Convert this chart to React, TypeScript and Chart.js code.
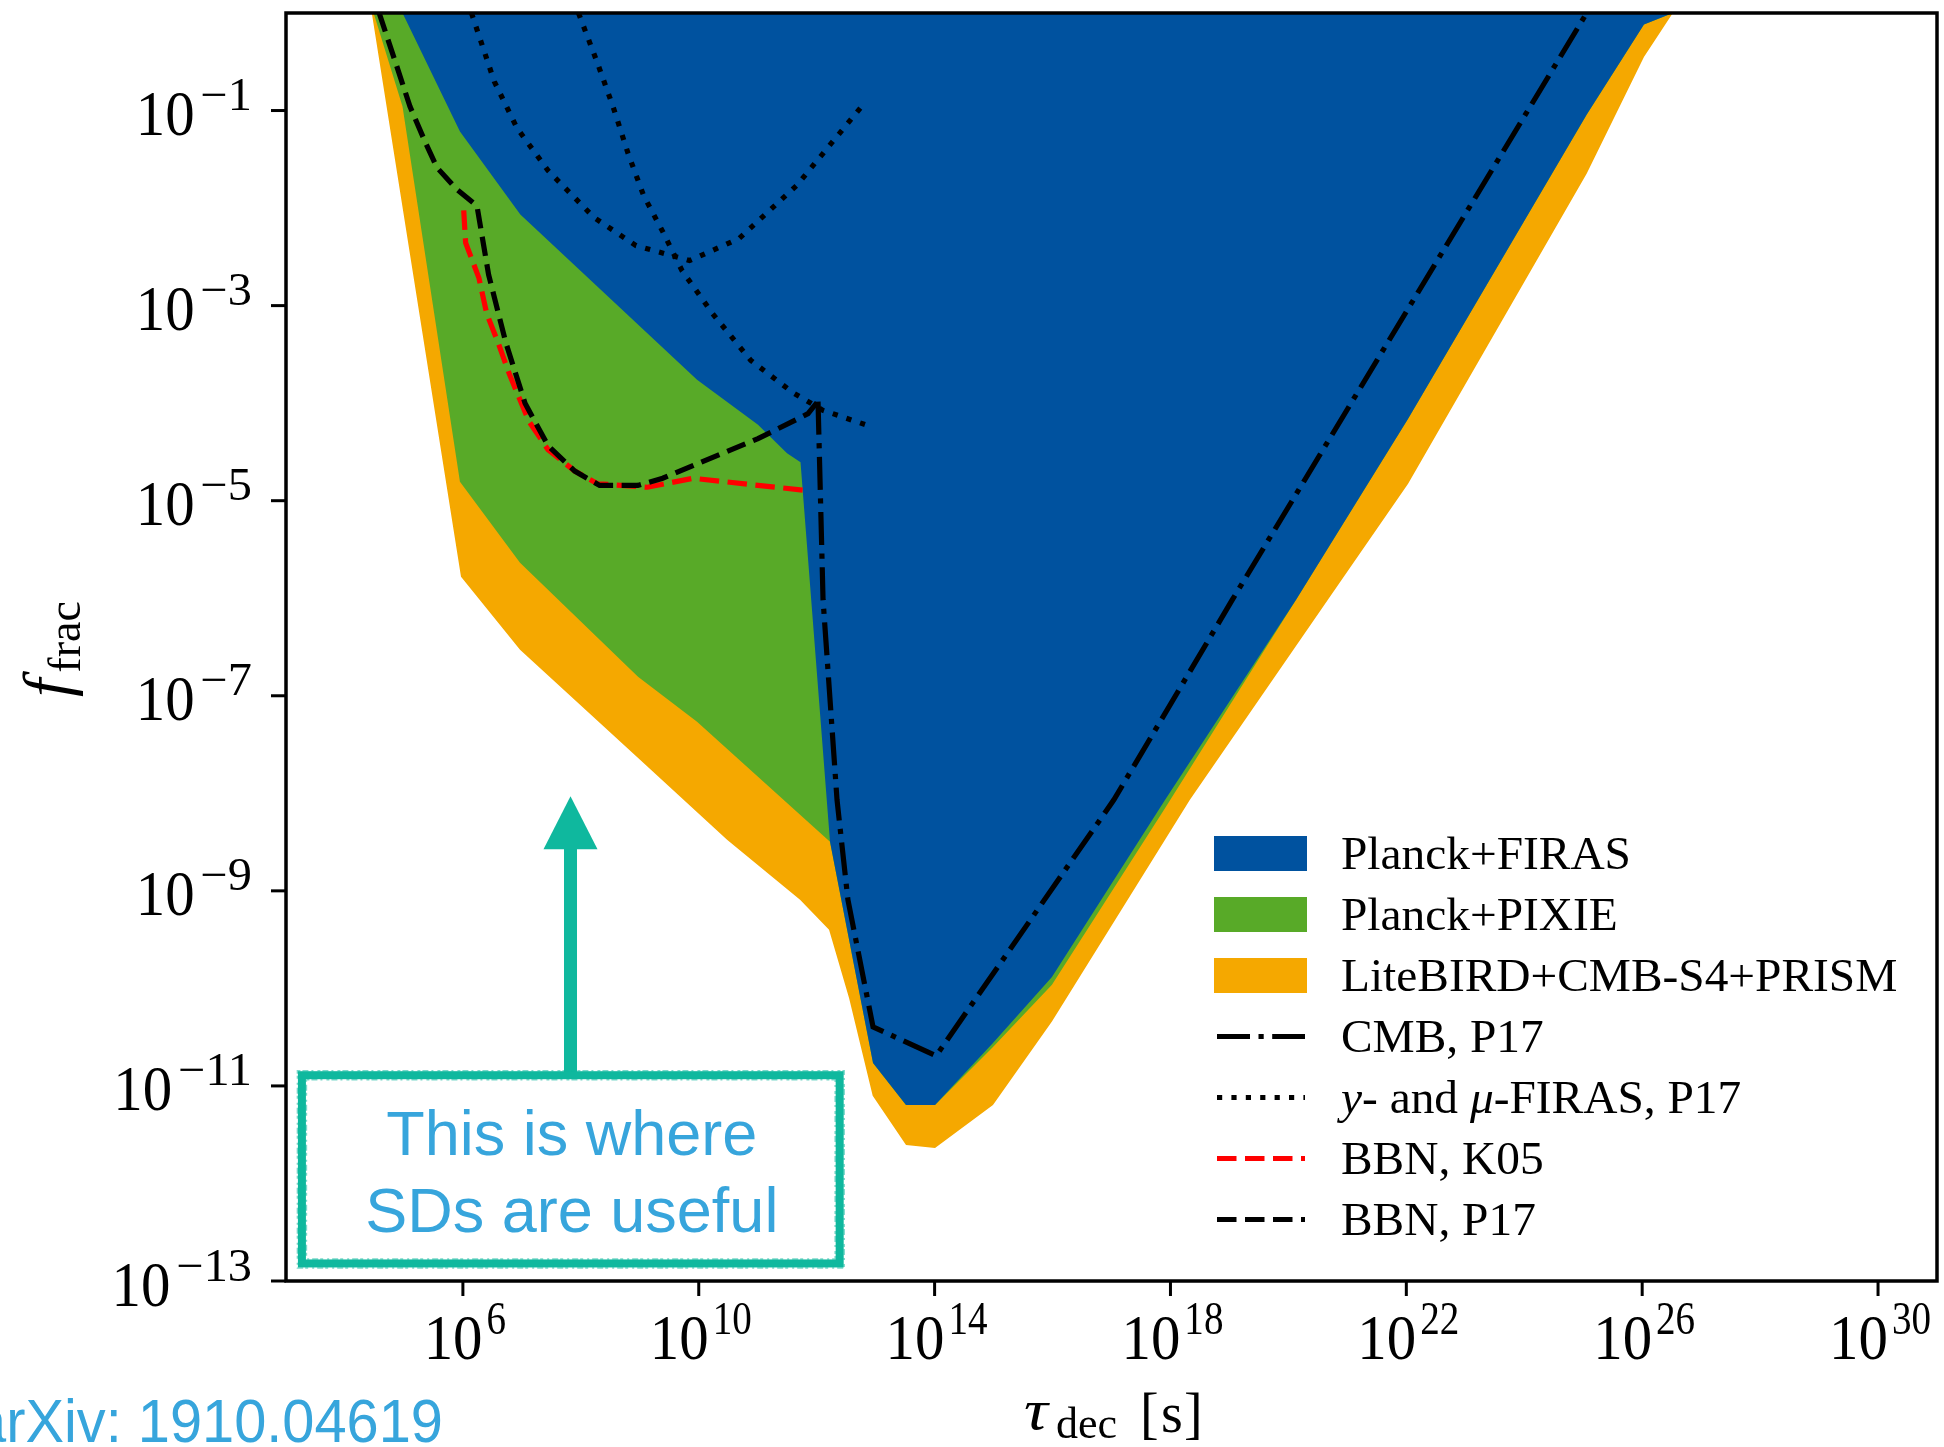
import React, { useEffect, useRef } from "react";
import { Chart, registerables } from "chart.js";

Chart.register(...registerables);

// ---- data (log10 values) ----
const xTickExps = [6, 10, 14, 18, 22, 26, 30];
const yTickExps = [-1, -3, -5, -7, -9, -11, -13];

// Planck+FIRAS excluded region (lower boundary)
const firasLogTau = [4.976, 5.95, 6.974, 9.971, 11.005, 11.497, 11.726, 12.226, 12.956, 13.515, 14.007, 14.99, 15.99, 17.91, 20.13, 22.03, 25.06, 26.03, 26.52];
const firasLogF = [0, -1.215, -2.067, -3.759, -4.221, -4.514, -4.605, -8.497, -10.764, -11.195, -11.195, -10.56, -9.882, -8.067, -6.015, -4.16, -1.041, -0.118, 0];

// Planck+PIXIE
const pixieLogTau = [4.486, 4.976, 5.95, 6.969, 8.97, 9.971, 12.226, 12.956, 13.515, 14.007, 14.99, 15.99, 17.91, 20.13, 22.03, 25.06, 26.03, 26.52];
const pixieLogF = [0, -0.959, -4.805, -5.636, -6.805, -7.267, -8.497, -10.764, -11.195, -11.195, -10.6, -9.964, -8.15, -6.015, -4.16, -1.041, -0.118, 0];

// LiteBIRD+CMB-S4+PRISM
const liteLogTau = [4.455, 5.968, 6.969, 9.004, 10.48, 11.718, 12.21, 12.55, 12.95, 13.515, 14.007, 14.99, 15.99, 18.33, 20.67, 22.03, 25.06, 26.03, 26.52];
const liteLogF = [0, -5.78, -6.528, -7.656, -8.477, -9.092, -9.4, -10.1, -11.1, -11.605, -11.636, -11.195, -10.34, -8.067, -6.015, -4.826, -1.646, -0.45, 0];

// CMB, P17
const cmbLogTau = [12.023, 12.108, 12.345, 12.53, 12.956, 14.024, 17.04, 19.05, 25.06];
const cmbLogF = [-3.985, -6.015, -8.067, -9.092, -10.395, -10.692, -8.067, -6.015, 0];

// y- and mu-FIRAS, P17 (two curves)
const firasArcLogTau = [6.145, 6.533, 6.918, 7.444, 8.224, 8.936, 9.844, 10.683, 11.66, 12.83];
const firasArcLogF = [0, -0.703, -1.18, -1.615, -2.097, -2.385, -2.538, -2.313, -1.769, -0.908];
const firasFallLogTau = [7.961, 8.285, 8.546, 8.8, 9.065, 9.389, 9.716, 10.234, 10.882, 11.596, 12.108, 12.829];
const firasFallLogF = [0, -0.518, -0.959, -1.437, -1.872, -2.241, -2.641, -3.082, -3.561, -3.892, -4.074, -4.221];

// BBN, K05
const k05LogTau = [6.014, 6.046, 6.273, 6.404, 6.596, 6.792, 7.118, 7.444, 7.897, 8.285, 9.13, 9.908, 11.005, 11.853];
const k05LogF = [-2.023, -2.354, -2.719, -3.082, -3.379, -3.708, -4.184, -4.477, -4.696, -4.826, -4.862, -4.77, -4.843, -4.897];

// BBN, P17
const p17LogTau = [4.58, 4.845, 5.103, 5.364, 5.561, 5.883, 6.239, 6.436, 6.728, 7.054, 7.444, 7.897, 8.319, 8.967, 9.389, 10.039, 11.005, 11.853, 12.018];
const p17LogF = [0, -0.484, -0.959, -1.328, -1.585, -1.8, -1.978, -2.682, -3.379, -4.001, -4.436, -4.696, -4.843, -4.843, -4.77, -4.605, -4.364, -4.108, -3.983];

const legendLabels = ["Planck+FIRAS", "Planck+PIXIE", "LiteBIRD+CMB-S4+PRISM", "CMB, P17", "y- and μ-FIRAS, P17", "BBN, K05", "BBN, P17"];

const BLUE = "rgb(0,82,159)";
const GREEN = "rgb(88,170,40)";
const ORANGE = "rgb(245,168,0)";
const TEAL = "rgb(15,184,158)";
const TXTBLUE = "rgb(55,165,220)";

const LW = 5.2;
const DASH = [19.5, 8.5];
const DASHDOT = [33, 8.5, 5.2, 8.5];
const DOT = [5.2, 9.2];

const toXY = (lt: number[], lf: number[]) => lt.map((t, i) => ({ x: Math.pow(10, t), y: Math.pow(10, lf[i]) }));

const SERIF = "'Liberation Serif', 'DejaVu Serif', serif";
const SANS = "'Liberation Sans', Arial, sans-serif";

function drawScaled(ctx: CanvasRenderingContext2D, t: string, x: number, y: number, font: string, sx: number, color = "#000", align: CanvasTextAlign = "left") {
  ctx.save();
  ctx.translate(x, y);
  ctx.scale(sx, 1);
  ctx.font = font;
  ctx.fillStyle = color;
  ctx.textAlign = align;
  ctx.textBaseline = "alphabetic";
  ctx.fillText(t, 0, 0);
  ctx.restore();
}

function drawPow(ctx: CanvasRenderingContext2D, exp: number, x: number, baseY: number, align: "center" | "right", sxSup: number, gap: number) {
  const mainFont = `64px ${SERIF}`;
  const supFont = `46px ${SERIF}`;
  const sxMain = 0.92;
  const supTxt = exp < 0 ? "\u2212" + Math.abs(exp) : String(exp);
  ctx.font = mainFont;
  const wMain = ctx.measureText("10").width * sxMain;
  ctx.font = supFont;
  const wSup = ctx.measureText(supTxt).width * sxSup;
  const total = wMain + gap + wSup;
  const x0 = align === "center" ? x - total / 2 : x - total;
  drawScaled(ctx, "10", x0, baseY, mainFont, sxMain);
  drawScaled(ctx, supTxt, x0 + wMain + gap, baseY - 25, supFont, sxSup);
}

const decorPlugin = {
  id: "decor",
  afterDraw(chart: any) {
    const ctx: CanvasRenderingContext2D = chart.ctx;
    const xs = chart.scales.x;
    const ys = chart.scales.y;
    const a = chart.chartArea;
    ctx.save();

    // ticks
    ctx.strokeStyle = "#000";
    ctx.lineWidth = 3;
    xTickExps.forEach((e) => {
      const px = xs.getPixelForValue(Math.pow(10, e));
      ctx.beginPath();
      ctx.moveTo(px, a.bottom);
      ctx.lineTo(px, a.bottom + 15);
      ctx.stroke();
      drawPow(ctx, e, px + 2, a.bottom + 78, "center", 0.85, 4);
    });
    yTickExps.forEach((e) => {
      const py = ys.getPixelForValue(Math.pow(10, e));
      ctx.beginPath();
      ctx.moveTo(a.left - 15, py);
      ctx.lineTo(a.left, py);
      ctx.stroke();
      drawPow(ctx, e, a.left - 34, py + 24.5, "right", 1.05, 6);
    });

    // frame
    ctx.lineWidth = 3.5;
    ctx.strokeRect(a.left, a.top, a.right - a.left, a.bottom - a.top);

    // y title
    ctx.save();
    ctx.translate(69, 697);
    ctx.rotate(-Math.PI / 2);
    ctx.fillStyle = "#000";
    ctx.textAlign = "left";
    ctx.textBaseline = "alphabetic";
    ctx.font = `italic 66px ${SERIF}`;
    const wf = ctx.measureText("f").width;
    ctx.fillText("f", 0, 0);
    ctx.font = `46px ${SERIF}`;
    ctx.fillText("frac", wf + 6, 11);
    ctx.restore();

    // x title
    ctx.fillStyle = "#000";
    ctx.textAlign = "left";
    ctx.textBaseline = "alphabetic";
    drawScaled(ctx, "τ", 1024, 1429, `italic 58px ${SERIF}`, 1.15);
    ctx.fillStyle = "#000";
    ctx.font = `44px ${SERIF}`;
    ctx.fillText("dec", 1056, 1438);
    ctx.font = `56px ${SERIF}`;
    ctx.fillText("[", 1140, 1432);
    ctx.fillText("s", 1161, 1432);
    ctx.fillText("]", 1184, 1432);

    // legend
    const lx0 = 1214;
    const lx1 = 1307;
    const tx = 1341;
    const rowTop = 853.5;
    const rowGap = 61;
    const dsets = chart.data.datasets;
    const entries = [
      { ds: dsets[6], kind: "box" },
      { ds: dsets[5], kind: "box" },
      { ds: dsets[4], kind: "box" },
      { ds: dsets[1], kind: "line" },
      { ds: dsets[3], kind: "line" },
      { ds: dsets[2], kind: "line" },
      { ds: dsets[0], kind: "line" },
    ];
    entries.forEach((en, i) => {
      const cy = rowTop + i * rowGap;
      if (en.kind === "box") {
        ctx.fillStyle = en.ds.backgroundColor;
        ctx.fillRect(lx0, cy - 17.5, lx1 - lx0, 35);
      } else {
        ctx.save();
        ctx.strokeStyle = en.ds.borderColor;
        ctx.lineWidth = en.ds.borderWidth;
        ctx.setLineDash(en.ds.borderDash || []);
        ctx.lineCap = "butt";
        ctx.beginPath();
        ctx.moveTo(lx0 + 3, cy);
        ctx.lineTo(lx1 - 2, cy);
        ctx.stroke();
        ctx.restore();
      }
      const label = legendLabels[i];
      const base = cy + 15.5;
      const sx = 1.03;
      if (label.startsWith("y- and")) {
        const parts = [
          { t: "y", it: true },
          { t: "- and ", it: false },
          { t: "μ", it: true },
          { t: "-FIRAS, P17", it: false },
        ];
        let x = tx;
        parts.forEach((p) => {
          const f = `${p.it ? "italic " : ""}46px ${SERIF}`;
          ctx.font = f;
          const w = ctx.measureText(p.t).width * sx;
          drawScaled(ctx, p.t, x, base, f, sx);
          x += w;
        });
      } else {
        drawScaled(ctx, label, tx, base, `46px ${SERIF}`, sx);
      }
    });

    // annotation arrow
    const ax = xs.getPixelForValue(Math.pow(10, 7.825));
    const tipY = ys.getPixelForValue(Math.pow(10, -8.03));
    const headBase = tipY + 53;
    const boxTop = ys.getPixelForValue(Math.pow(10, -10.89));
    const boxBottom = ys.getPixelForValue(Math.pow(10, -12.82));
    const boxLeft = xs.getPixelForValue(Math.pow(10, 3.27));
    const boxRight = xs.getPixelForValue(Math.pow(10, 12.39));
    ctx.fillStyle = TEAL;
    ctx.fillRect(ax - 6.5, headBase - 1, 13, boxTop - headBase + 1);
    ctx.beginPath();
    ctx.moveTo(ax, tipY);
    ctx.lineTo(ax - 27, headBase);
    ctx.lineTo(ax + 27, headBase);
    ctx.closePath();
    ctx.fill();

    // annotation box (slightly rough hand-drawn border)
    ctx.fillStyle = "#fff";
    ctx.fillRect(boxLeft, boxTop, boxRight - boxLeft, boxBottom - boxTop);
    ctx.strokeStyle = TEAL;
    ctx.lineWidth = 8;
    ctx.setLineDash([]);
    ctx.strokeRect(boxLeft, boxTop, boxRight - boxLeft, boxBottom - boxTop);
    ctx.lineWidth = 1.5;
    ctx.strokeStyle = "rgba(15,184,158,0.55)";
    ctx.setLineDash([3, 2, 6, 3, 2, 4]);
    ctx.strokeRect(boxLeft - 4.5, boxTop - 4.5, boxRight - boxLeft + 9, boxBottom - boxTop + 9);
    ctx.strokeRect(boxLeft + 4.5, boxTop + 4.5, boxRight - boxLeft - 9, boxBottom - boxTop - 9);
    ctx.setLineDash([]);

    ctx.fillStyle = TXTBLUE;
    ctx.font = `63px ${SANS}`;
    ctx.textAlign = "center";
    ctx.textBaseline = "alphabetic";
    const cx = (boxLeft + boxRight) / 2 + 1;
    ctx.fillText("This is where", cx, 1155);
    ctx.fillText("SDs are useful", cx, 1232);

    // arXiv reference
    drawScaled(ctx, "arXiv: 1910.04619", 443, 1442, `61px ${SANS}`, 0.947, TXTBLUE, "right");

    ctx.restore();
  },
};

export default function App() {
  const ref = useRef<HTMLCanvasElement | null>(null);
  useEffect(() => {
    if (!ref.current) return;
    const lineDs = (label: string, data: any[], color: string, dash: number[], order: number) => ({
      label,
      data,
      showLine: true,
      borderColor: color,
      borderWidth: LW,
      borderDash: dash,
      borderCapStyle: "butt",
      pointRadius: 0,
      fill: false,
      tension: 0,
      order,
    });
    const areaDs = (label: string, data: any[], color: string, order: number) => ({
      label,
      data,
      showLine: true,
      borderColor: color,
      backgroundColor: color,
      borderWidth: 0,
      pointRadius: 0,
      fill: "end",
      tension: 0,
      order,
    });
    const chart = new Chart(ref.current, {
      type: "scatter",
      data: {
        datasets: [
          lineDs("BBN, P17", toXY(p17LogTau, p17LogF), "#000", DASH, 0),
          lineDs("CMB, P17", toXY(cmbLogTau, cmbLogF), "#000", DASHDOT, 1),
          lineDs("BBN, K05", toXY(k05LogTau, k05LogF), "#ff0000", DASH, 2),
          lineDs("y- and μ-FIRAS, P17", toXY(firasArcLogTau, firasArcLogF), "#000", DOT, 3),
          areaDs("LiteBIRD+CMB-S4+PRISM", toXY(liteLogTau, liteLogF), ORANGE, 12),
          areaDs("Planck+PIXIE", toXY(pixieLogTau, pixieLogF), GREEN, 11),
          areaDs("Planck+FIRAS", toXY(firasLogTau, firasLogF), BLUE, 10),
          lineDs("y- and μ-FIRAS, P17 (b)", toXY(firasFallLogTau, firasFallLogF), "#000", DOT, 3),
        ] as any,
      },
      options: {
        animation: false,
        responsive: false,
        maintainAspectRatio: false,
        devicePixelRatio: 1,
        events: [],
        layout: { padding: { left: 286, right: 7, top: 13, bottom: 166 } },
        plugins: { legend: { display: false }, tooltip: { enabled: false } },
        scales: {
          x: { type: "logarithmic", min: 1e3, max: 1e31, display: false },
          y: { type: "logarithmic", min: 1e-13, max: 1, display: false },
        },
      } as any,
      plugins: [decorPlugin],
    });
    return () => chart.destroy();
  }, []);
  return (
    <div style={{ position: "fixed", left: 0, top: 0, width: 1944, height: 1447, background: "#fff" }}>
      <canvas ref={ref} width={1944} height={1447} style={{ display: "block", width: 1944, height: 1447 }} />
    </div>
  );
}
